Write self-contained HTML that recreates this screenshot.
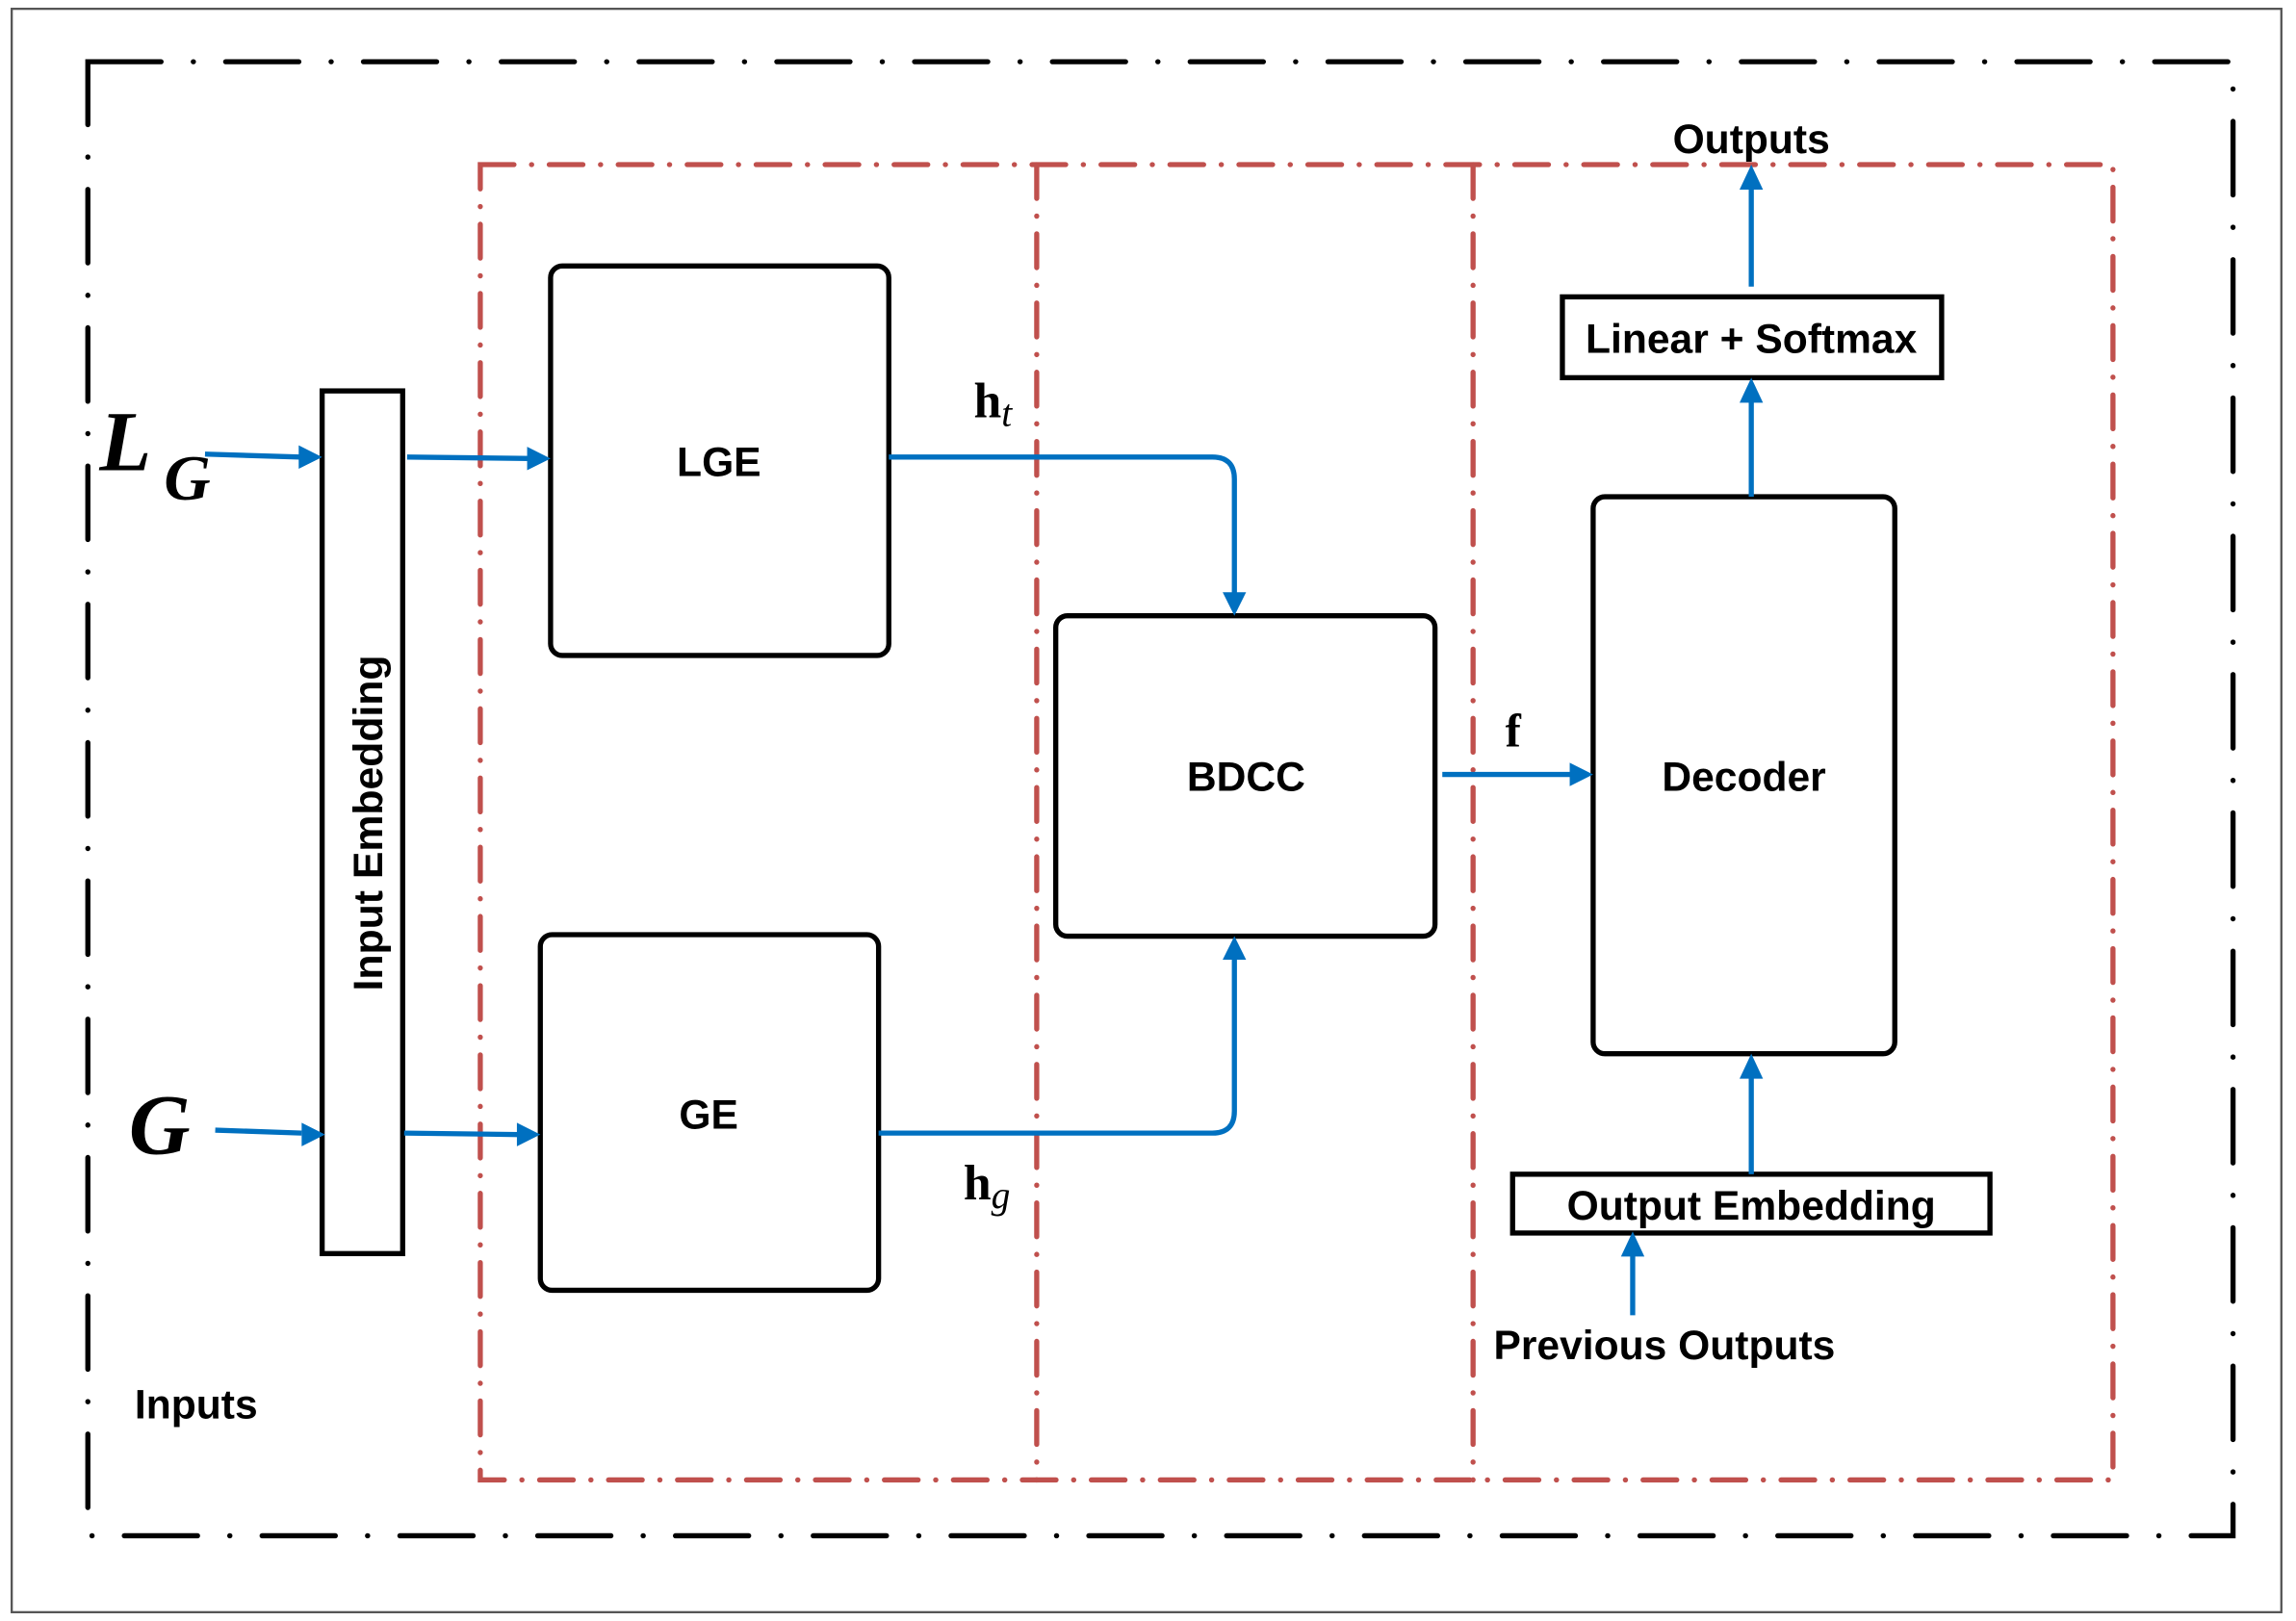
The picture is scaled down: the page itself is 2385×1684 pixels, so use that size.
<!DOCTYPE html>
<html><head><meta charset="utf-8"><style>
html,body{margin:0;padding:0;background:#fff;}
svg{display:block}
text{font-family:"Liberation Sans",sans-serif;font-weight:bold;fill:#000}
.m{font-family:"Liberation Serif",serif}
</style></head><body>
<svg width="2385" height="1684" viewBox="0 0 1568 1103" preserveAspectRatio="none" xmlns="http://www.w3.org/2000/svg">
<rect x="0" y="0" width="1568" height="1103" fill="#fff"/>
<rect x="8" y="6" width="1550" height="1091" fill="none" stroke="#555" stroke-width="1.5"/>
<!-- black dash-dot -->
<rect x="60" y="42" width="1465" height="1003" fill="none" stroke="#000" stroke-width="3.5" stroke-dasharray="50 22 0.1 22" stroke-linecap="round"/>
<!-- red dash-dot -->
<g fill="none" stroke="#c0504d" stroke-width="3.5" stroke-dasharray="23 12 0.1 12" stroke-linecap="round">
<rect x="328" y="112" width="1115" height="895"/>
<line x1="708" y1="112" x2="708" y2="1007"/>
<line x1="1006" y1="112" x2="1006" y2="1007"/>
</g>
<!-- boxes -->
<g fill="#fff" stroke="#000" stroke-width="3.5">
<rect x="220" y="266" width="55" height="587"/>
<rect x="376" y="181" width="231" height="265" rx="8"/>
<rect x="369" y="636" width="231" height="242" rx="8"/>
<rect x="721" y="419" width="259" height="218" rx="8"/>
<rect x="1088" y="338" width="206" height="379" rx="8"/>
<rect x="1067" y="202" width="259" height="55"/>
<rect x="1033" y="799" width="326" height="40"/>
</g>
<!-- arrows -->
<g fill="none" stroke="#0070c0" stroke-width="3.5">
<line x1="140" y1="309" x2="205" y2="311"/>
<line x1="147" y1="769" x2="206" y2="771"/>
<line x1="278" y1="311" x2="362" y2="312"/>
<line x1="276" y1="771" x2="355" y2="772"/>
<path d="M607,311 H828 Q843,311 843,326 V405"/>
<path d="M600,771 H828 Q843,771 843,756 V651"/>
<line x1="985" y1="527" x2="1074" y2="527"/>
<line x1="1196" y1="338" x2="1196" y2="272"/>
<line x1="1196" y1="195" x2="1196" y2="127"/>
<line x1="1196" y1="799" x2="1196" y2="732"/>
<line x1="1115" y1="895" x2="1115" y2="853"/>
</g>
<g fill="#0070c0">
<polygon points="220,311 204,303 204,319"/>
<polygon points="222,772 206,764 206,780"/>
<polygon points="376,312 360,304 360,320"/>
<polygon points="369,772 353,764 353,780"/>
<polygon points="843,419 835,403 851,403"/>
<polygon points="843,637 835,653 851,653"/>
<polygon points="1088,527 1072,519 1072,535"/>
<polygon points="1196,257 1188,274 1204,274"/>
<polygon points="1196,112 1188,129 1204,129"/>
<polygon points="1196,717 1188,734 1204,734"/>
<polygon points="1115,838 1107,855 1123,855"/>
</g>
<!-- labels -->
<text x="491" y="324" font-size="28" text-anchor="middle">LGE</text>
<text x="484" y="768" font-size="28" text-anchor="middle">GE</text>
<text x="851" y="538" font-size="28" text-anchor="middle">BDCC</text>
<text x="1191" y="538" font-size="28" text-anchor="middle">Decoder</text>
<text x="1196" y="240" font-size="28" text-anchor="middle">Linear + Softmax</text>
<text x="1196" y="830" font-size="28" text-anchor="middle">Output Embedding</text>
<text x="1196" y="104" font-size="28" text-anchor="middle">Outputs</text>
<text x="1020" y="925" font-size="28">Previous Outputs</text>
<text x="92" y="965" font-size="28">Inputs</text>
<text transform="translate(261,560) rotate(-90)" font-size="28" text-anchor="middle">Input Embedding</text>
<text class="m" x="665" y="284" font-size="34">h<tspan font-size="26" font-style="italic" font-weight="normal" dy="6">t</tspan></text>
<text class="m" x="658" y="816" font-size="34">h<tspan font-size="26" font-style="italic" font-weight="normal" dy="6">g</tspan></text>
<text class="m" x="1028" y="508" font-size="32">f</text>
<text class="m" x="68" y="320" font-size="58" font-style="italic" font-weight="normal">L</text>
<text class="m" x="112" y="340" font-size="44" font-style="italic" font-weight="normal">G</text>
<text class="m" x="88" y="785" font-size="58" font-style="italic" font-weight="normal">G</text>
</svg>
</body></html>
